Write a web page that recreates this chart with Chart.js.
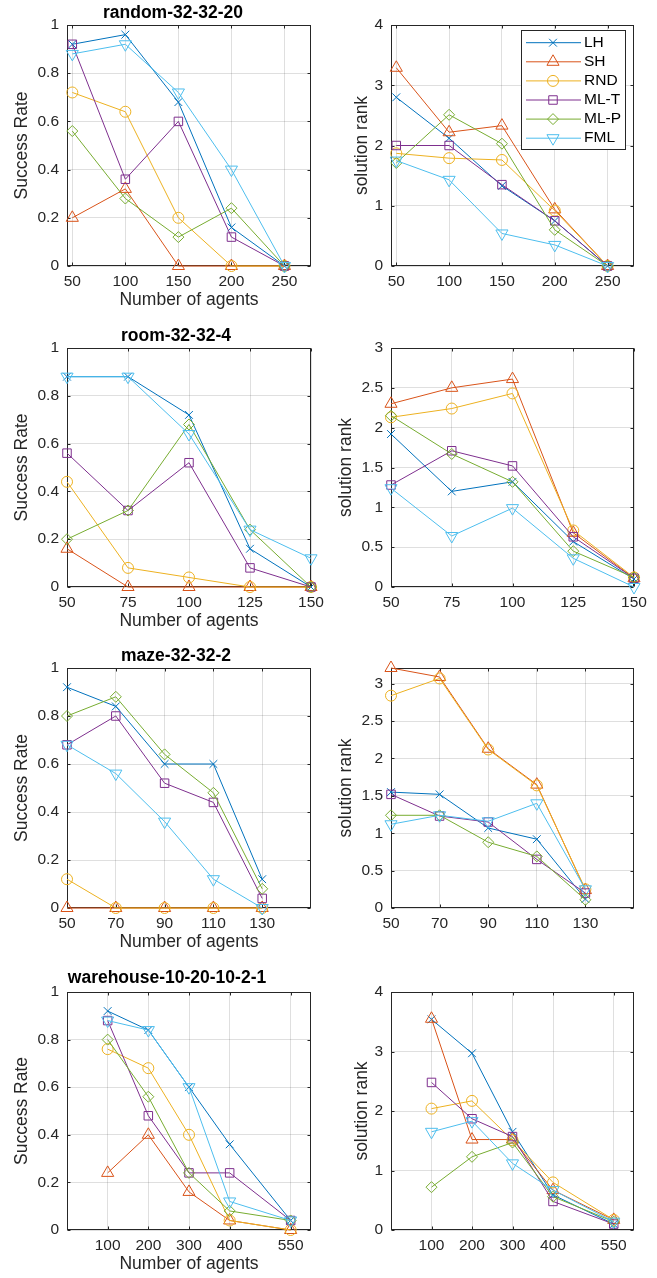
<!DOCTYPE html>
<html>
<head>
<meta charset="utf-8">
<script src="https://cdn.jsdelivr.net/npm/chart.js@4/dist/chart.umd.min.js"></script>
<style>
html, body { margin: 0; padding: 0; background: #fff; }
#wrap { position: relative; width: 657px; height: 1278px; overflow: hidden; }
canvas { position: absolute; }
</style>
</head>
<body>
<div id="wrap"></div>
<script>
const METHODS = ['LH', 'SH', 'RND', 'ML-T', 'ML-P', 'FML'];
const COLORS = ['#0072BD', '#D95319', '#EDB120', '#7E2F8E', '#77AC30', '#4DBEEE'];
const MARKERS = ['crossRot', 'triangle', 'circle', 'rect', 'rectRot', 'triangle'];
const MARKER_ROT = [0, 0, 0, 0, 0, 180];
const MARKER_R = [5.5, 7, 5.5, 6, 5.5, 7];

// rows follow METHODS order
const randomAgents = [50, 100, 150, 200, 250];
const randomSuccess = [
    [0.92, 0.96, 0.68, 0.16, 0],
    [0.20, 0.32, 0, 0, 0],
    [0.72, 0.64, 0.20, 0, 0],
    [0.92, 0.36, 0.60, 0.12, 0],
    [0.56, 0.28, 0.12, 0.24, 0],
    [0.88, 0.92, 0.72, 0.40, 0]
];
const randomRank = [
    [2.80, 2.12, 1.33, 0.75, 0],
    [3.29, 2.22, 2.33, 0.94, 0],
    [1.87, 1.79, 1.76, 0.92, 0],
    [2.00, 2.00, 1.35, 0.75, 0],
    [1.71, 2.51, 2.03, 0.60, 0],
    [1.75, 1.43, 0.54, 0.35, 0]
];

const roomAgents = [50, 75, 100, 125, 150];
const roomSuccess = [
    [0.88, 0.88, 0.72, 0.16, 0],
    [0.16, 0, 0, 0, 0],
    [0.44, 0.08, 0.04, 0, 0],
    [0.56, 0.32, 0.52, 0.08, 0],
    [0.20, 0.32, 0.68, 0.24, 0],
    [0.88, 0.88, 0.64, 0.24, 0.12]
];
const roomRank = [
    [1.92, 1.20, 1.32, 0.57, 0.10],
    [2.30, 2.50, 2.61, 0.68, 0.11],
    [2.13, 2.24, 2.43, 0.71, 0.12],
    [1.28, 1.71, 1.52, 0.63, 0.11],
    [2.15, 1.67, 1.32, 0.45, 0.12],
    [1.24, 0.64, 0.99, 0.36, 0.0]
];

const mazeAgents = [50, 70, 90, 110, 130];
const mazeSuccess = [
    [0.92, 0.84, 0.60, 0.60, 0.12],
    [0, 0, 0, 0, 0],
    [0.12, 0, 0, 0, 0],
    [0.68, 0.80, 0.52, 0.44, 0.04],
    [0.80, 0.88, 0.64, 0.48, 0.08],
    [0.68, 0.56, 0.36, 0.12, 0]
];
const mazeRank = [
    [1.55, 1.52, 1.07, 0.92, 0.12],
    [3.21, 3.09, 2.13, 1.65, 0.24],
    [2.84, 3.07, 2.12, 1.64, 0.25],
    [1.52, 1.23, 1.15, 0.65, 0.20],
    [1.24, 1.24, 0.88, 0.69, 0.11],
    [1.12, 1.24, 1.16, 1.40, 0.25]
];

const warehouseAgents = [100, 200, 300, 400, 550];
const warehouseSuccess = [
    [0.92, 0.84, 0.60, 0.36, 0.04],
    [0.24, 0.40, 0.16, 0.04, 0],
    [0.76, 0.68, 0.40, 0.04, 0],
    [0.88, 0.48, 0.24, 0.24, 0.04],
    [0.80, 0.56, 0.24, 0.08, 0.04],
    [0.88, 0.84, 0.60, 0.12, 0.04]
];
const warehouseRank = [
    [3.54, 2.97, 1.65, 0.59, 0.10],
    [3.55, 1.52, 1.52, 0.67, 0.17],
    [2.04, 2.17, 1.51, 0.80, 0.17],
    [2.48, 1.87, 1.57, 0.48, 0.10],
    [0.72, 1.23, 1.47, 0.56, 0.14],
    [1.65, 1.83, 1.12, 0.67, 0.14]
];

const srTicks = [0, 0.2, 0.4, 0.6, 0.8, 1];
const rankTicks4 = [0, 1, 2, 3, 4];
const rankTicks3 = [0, 0.5, 1, 1.5, 2, 2.5, 3];

const FONT = "'Liberation Sans', Arial, Helvetica, sans-serif";
const AXIS_COLOR = '#262626';
const GRID = 'rgba(38,38,38,0.15)';

const rows = [
    {top: 0,   h: 311, title: 'random-32-32-20',        titleX: 173, titleDy: 12, rankPad: 21.5, agents: randomAgents,    xMin: 45, xMax: 275, sr: randomSuccess,    rank: randomRank,    rankMax: 4,    rankTicks: rankTicks4},
    {top: 323, h: 309, title: 'room-32-32-4',           titleX: 176, titleDy: 12, rankPad: 5.5,  agents: roomAgents,      xMin: 50, xMax: 150, sr: roomSuccess,      rank: roomRank,      rankMax: 3,    rankTicks: rankTicks3},
    {top: 643, h: 310, title: 'maze-32-32-2',           titleX: 176, titleDy: 12, rankPad: 5.5,  agents: mazeAgents,      xMin: 50, xMax: 150, sr: mazeSuccess,      rank: mazeRank,      rankMax: 3.21, rankTicks: rankTicks3},
    {top: 967, h: 308, title: 'warehouse-10-20-10-2-1', titleX: 167, titleDy: 14, rankPad: 21.5, agents: warehouseAgents, xMin: 0,  xMax: 600, sr: warehouseSuccess, rank: warehouseRank, rankMax: 4,    rankTicks: rankTicks4}
];

// axes box with inward ticks on all four sides
const boxPlugin = {
    id: 'mBox',
    beforeDatasetsDraw(chart) {
        const {ctx, chartArea: a, scales: {x, y}} = chart;
        const L = Math.round(a.left) + 0.5, R = Math.round(a.right) - 0.5;
        const T = Math.round(a.top) + 0.5, B = Math.round(a.bottom) - 0.5;
        ctx.save();
        ctx.strokeStyle = AXIS_COLOR;
        ctx.lineWidth = 1;
        ctx.strokeRect(L, T, R - L, B - T);
        ctx.beginPath();
        x.ticks.forEach(t => {
            const p = Math.round(x.getPixelForValue(t.value)) + 0.5;
            ctx.moveTo(p, B); ctx.lineTo(p, B - 3);
            ctx.moveTo(p, T); ctx.lineTo(p, T + 3);
        });
        y.ticks.forEach(t => {
            const p = Math.round(y.getPixelForValue(t.value)) + 0.5;
            ctx.moveTo(L, p); ctx.lineTo(L + 3, p);
            ctx.moveTo(R, p); ctx.lineTo(R - 3, p);
        });
        ctx.stroke();
        ctx.restore();
    }
};

// panel title placed like the MATLAB axes title
const titlePlugin = {
    id: 'mTitle',
    afterDraw(chart, args, opts) {
        if (!opts.text) return;
        const ctx = chart.ctx;
        ctx.save();
        ctx.font = 'bold 17.5px ' + FONT;
        ctx.fillStyle = '#000';
        ctx.textAlign = 'center';
        ctx.textBaseline = 'middle';
        ctx.fillText(opts.text, opts.x, chart.chartArea.top - opts.dy);
        ctx.restore();
    }
};

const legendPlugin = {
    id: 'mLegend',
    afterDraw(chart, args, opts) {
        if (!opts.show) return;
        const ctx = chart.ctx;
        ctx.save();
        ctx.fillStyle = '#fff';
        ctx.fillRect(191, 30, 105, 120);
        ctx.strokeStyle = AXIS_COLOR;
        ctx.lineWidth = 1;
        ctx.strokeRect(191.5, 30.5, 104, 119);
        ctx.font = '15.5px ' + FONT;
        ctx.textBaseline = 'middle';
        chart.data.datasets.forEach((ds, i) => {
            const cy = 42.7 + i * 19.1;
            ctx.strokeStyle = ds.borderColor;
            ctx.beginPath();
            ctx.moveTo(196, cy); ctx.lineTo(251, cy);
            ctx.stroke();
            ctx.fillStyle = 'rgba(0,0,0,0)';
            Chart.helpers.drawPoint(ctx, {
                pointStyle: ds.pointStyle, rotation: ds.pointRotation,
                radius: ds.pointRadius, borderWidth: 1
            }, 223, cy);
            ctx.fillStyle = '#000';
            ctx.fillText(ds.label, 254, cy);
        });
        ctx.restore();
    }
};

function makeChart(left, top, w, h, p) {
    const canvas = document.createElement('canvas');
    canvas.width = w; canvas.height = h;
    canvas.style.left = left + 'px'; canvas.style.top = top + 'px';
    canvas.style.width = w + 'px'; canvas.style.height = h + 'px';
    document.getElementById('wrap').appendChild(canvas);

    const datasets = METHODS.map((m, i) => ({
        label: m,
        data: p.agents.map((a, j) => ({x: a, y: p.values[i][j]})),
        borderColor: COLORS[i],
        backgroundColor: 'rgba(0,0,0,0)',
        borderWidth: 1,
        pointStyle: MARKERS[i],
        pointRotation: MARKER_ROT[i],
        pointRadius: MARKER_R[i],
        pointBorderColor: COLORS[i],
        pointBackgroundColor: 'rgba(0,0,0,0)',
        pointBorderWidth: 1,
        tension: 0,
        clip: false,
        order: METHODS.length - i
    }));

    return new Chart(canvas, {
        type: 'line',
        data: {datasets},
        options: {
            responsive: false,
            animation: false,
            events: [],
            layout: {padding: {top: 25, right: p.left ? 19 : 23, bottom: 0, left: 0}},
            plugins: {
                legend: {display: false},
                tooltip: {enabled: false},
                mTitle: {text: p.title, x: p.titleX, dy: p.titleDy},
                mLegend: {show: !!p.legend}
            },
            scales: {
                x: {
                    type: 'linear', min: p.xMin, max: p.xMax,
                    afterBuildTicks: ax => { ax.ticks = p.xTicks.map(v => ({value: v})); },
                    afterFit: ax => { ax.height = 45; },
                    grid: {color: GRID, drawTicks: false},
                    border: {display: false},
                    ticks: {
                        padding: 6, color: AXIS_COLOR, maxRotation: 0, autoSkip: false,
                        font: {family: FONT, size: 15.5}, callback: v => String(v)
                    },
                    title: {
                        display: p.left, text: 'Number of agents', color: AXIS_COLOR,
                        font: {family: FONT, size: 17.5}, padding: 0
                    }
                },
                y: {
                    type: 'linear', min: 0, max: p.yMax,
                    afterBuildTicks: ax => { ax.ticks = p.yTicks.map(v => ({value: v})); },
                    afterFit: ax => { ax.width = p.left ? 67 : 61; },
                    grid: {color: GRID, drawTicks: false},
                    border: {display: false},
                    ticks: {
                        padding: 8, color: AXIS_COLOR,
                        font: {family: FONT, size: 15.5}, callback: v => String(v)
                    },
                    title: {
                        display: true, text: p.left ? 'Success Rate' : 'solution rank', color: AXIS_COLOR,
                        font: {family: FONT, size: 17.5},
                        padding: {top: p.yTitlePad, bottom: 0}
                    }
                }
            }
        },
        plugins: [boxPlugin, titlePlugin, legendPlugin]
    });
}

rows.forEach((r, k) => {
    makeChart(0, r.top, 330, r.h, {
        left: true, title: r.title, titleX: r.titleX, titleDy: r.titleDy, yTitlePad: 12,
        agents: r.agents, values: r.sr,
        xMin: r.xMin, xMax: r.xMax, xTicks: r.agents, yMax: 1, yTicks: srTicks
    });
    makeChart(330, r.top, 327, r.h, {
        left: false, legend: k === 0, yTitlePad: r.rankPad, agents: r.agents, values: r.rank,
        xMin: r.xMin, xMax: r.xMax, xTicks: r.agents, yMax: r.rankMax, yTicks: r.rankTicks
    });
});
</script>
</body>
</html>
